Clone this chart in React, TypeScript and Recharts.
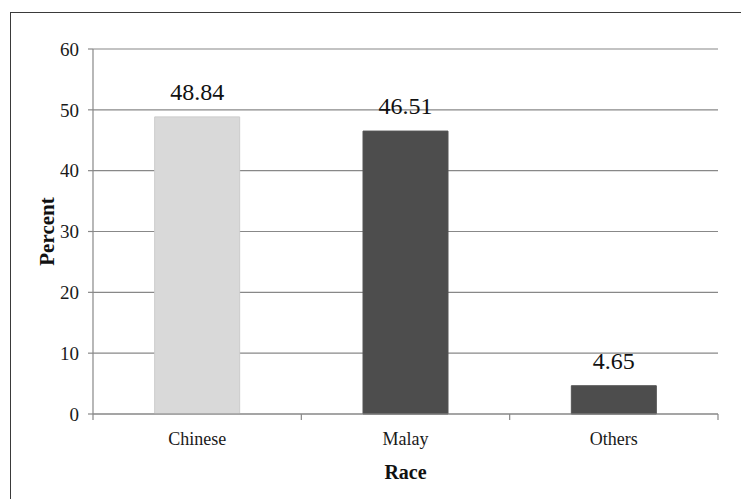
import React from 'react';
import { BarChart, Bar, XAxis, YAxis, CartesianGrid, Cell, LabelList, Label } from 'recharts';

const categories = ['Chinese', 'Malay', 'Others'];
const percents = [48.84, 46.51, 4.65];
const barColors = ['#d9d9d9', '#4d4d4d', '#4d4d4d'];
const barStrokes = ['#cccccc', '#555555', '#555555'];
const yTicks = [0, 10, 20, 30, 40, 50, 60];

const data = categories.map((race, i) => ({ race, percent: percents[i] }));

const FONT = '"Liberation Serif", "Times New Roman", serif';
const AXIS = '#888888';

function CategoryTick(props: any) {
  const { x, y, payload, index, visibleTicksCount, width } = props;
  const band = Number(width) / Number(visibleTicksCount);
  const top = y - 18;
  const lines: any[] = [];
  if (Number.isFinite(band)) {
    lines.push(<line key="l" x1={x - band / 2} x2={x - band / 2} y1={top} y2={top + 6} stroke={AXIS} strokeWidth={1.2} />);
    if (index === visibleTicksCount - 1) {
      lines.push(<line key="r" x1={x + band / 2} x2={x + band / 2} y1={top} y2={top + 6} stroke={AXIS} strokeWidth={1.2} />);
    }
  }
  return (
    <g>
      {lines}
      <text x={x} y={y} dy="0.71em" textAnchor="middle" fontFamily={FONT} fontSize={18} fill="#1a1a1a">
        {payload.value}
      </text>
    </g>
  );
}

function YTick(props: any) {
  const { x, y, payload } = props;
  return (
    <text x={x} y={y} dy="0.355em" textAnchor="end" fontFamily={FONT} fontSize={19} fill="#1a1a1a">
      {payload.value}
    </text>
  );
}

function ValueLabel(props: any) {
  const { x, y, width, value } = props;
  return (
    <text x={Number(x) + Number(width) / 2} y={Number(y) - 17} textAnchor="middle" fontFamily={FONT} fontSize={24} fill="#111">
      {value}
    </text>
  );
}

export default function App() {
  return (
    <div style={{ position: 'absolute', left: 0, top: 0, width: 741, height: 499, overflow: 'hidden', background: '#fff', fontFamily: FONT }}>
      <div style={{ position: 'absolute', left: 10, top: 12, width: 900, height: 700, borderTop: '1.5px solid #3a3a3a', borderLeft: '1.5px solid #3a3a3a' }} />
      <div style={{ position: 'absolute', left: 0, top: 0 }}>
        <BarChart width={741} height={499} data={data} margin={{ top: 49, right: 23, bottom: 15, left: 0 }} barCategoryGap="29.6%" style={{ fontFamily: FONT }}>
          <CartesianGrid horizontal vertical={false} stroke={AXIS} strokeWidth={1.2} />
          <XAxis
            dataKey="race"
            type="category"
            height={70}
            tickLine={false}
            tickSize={0}
            tickMargin={18}
            axisLine={{ stroke: AXIS, strokeWidth: 1.2 }}
            tick={<CategoryTick />}
            interval={0}
          >
            <Label value="Race" position="insideBottom" offset={5} style={{ fontFamily: FONT, fontSize: 20, fontWeight: 'bold', fill: '#111' }} />
          </XAxis>
          <YAxis
            width={93}
            domain={[0, 60]}
            ticks={yTicks}
            interval={0}
            tickSize={5}
            tickMargin={9}
            axisLine={{ stroke: AXIS, strokeWidth: 1.2 }}
            tickLine={{ stroke: AXIS, strokeWidth: 1.2 }}
            tick={<YTick />}
          >
            <Label value="Percent" angle={-90} position="center" style={{ fontFamily: FONT, fontSize: 21, fontWeight: 'bold', fill: '#111', textAnchor: 'middle' }} />
          </YAxis>
          <Bar dataKey="percent" isAnimationActive={false}>
            {data.map((d, i) => (
              <Cell key={d.race} fill={barColors[i]} stroke={barStrokes[i]} strokeWidth={1} />
            ))}
            <LabelList dataKey="percent" content={<ValueLabel />} />
          </Bar>
        </BarChart>
      </div>
    </div>
  );
}
